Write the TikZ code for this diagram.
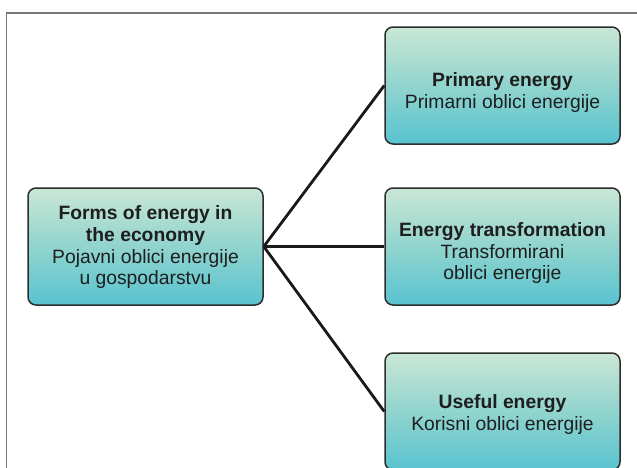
\documentclass[tikz,border=0pt]{standalone}
\usepackage{fontspec}
\setmainfont{Liberation Sans}
\definecolor{boxtop}{RGB}{202,231,213}
\definecolor{boxmid}{RGB}{145,212,206}
\definecolor{boxbot}{RGB}{88,195,208}
\definecolor{framegray}{RGB}{120,120,120}
\definecolor{txt}{RGB}{30,30,30}
\newcommand{\lowtext}[2]{\raisebox{-#1}[0pt][0pt]{\begin{tabular}{@{}c@{}}#2\end{tabular}}}
\tikzset{
  ebox/.style={draw={rgb,255:red,45;green,45;blue,45}, line width=1.5pt, rounded corners=8pt,
    top color=boxtop, bottom color=boxbot, middle color=boxmid,
    minimum width=235pt, minimum height=117pt, inner sep=0pt,
    align=center, text=txt, font=\fontsize{19.3}{21.8}\selectfont},
  link/.style={line width=2.8pt, draw={rgb,255:red,25;green,25;blue,25}}
}
\begin{document}
\begin{tikzpicture}[x=1pt,y=-1pt]
\useasboundingbox (0,0) rectangle (637,467);
\clip (0,0) rectangle (637,467);
\draw[framegray, line width=1.6pt] (6.5,480) -- (6.5,13) -- (650,13);
\node[ebox] (form) at (145.5,246.5) {\lowtext{6.5pt}{\textbf{Forms of energy in}\\\textbf{the economy}\\Pojavni oblici energije\\u gospodarstvu}};
\node[ebox] (prim) at (502.5,85.5) {\lowtext{12.5pt}{\textbf{Primary energy}\\Primarni oblici energije}};
\node[ebox] (trans) at (502.5,246.5) {\lowtext{12.5pt}{\textbf{Energy transformation}\\Transformirani\\oblici energije}};
\node[ebox] (use) at (502.5,411.5) {\lowtext{8.5pt}{\textbf{Useful energy}\\Korisni oblici energije}};
\draw[link] (form.east) -- (prim.west);
\draw[link] (form.east) -- (trans.west);
\draw[link] (form.east) -- (use.west);
\end{tikzpicture}
\end{document}
